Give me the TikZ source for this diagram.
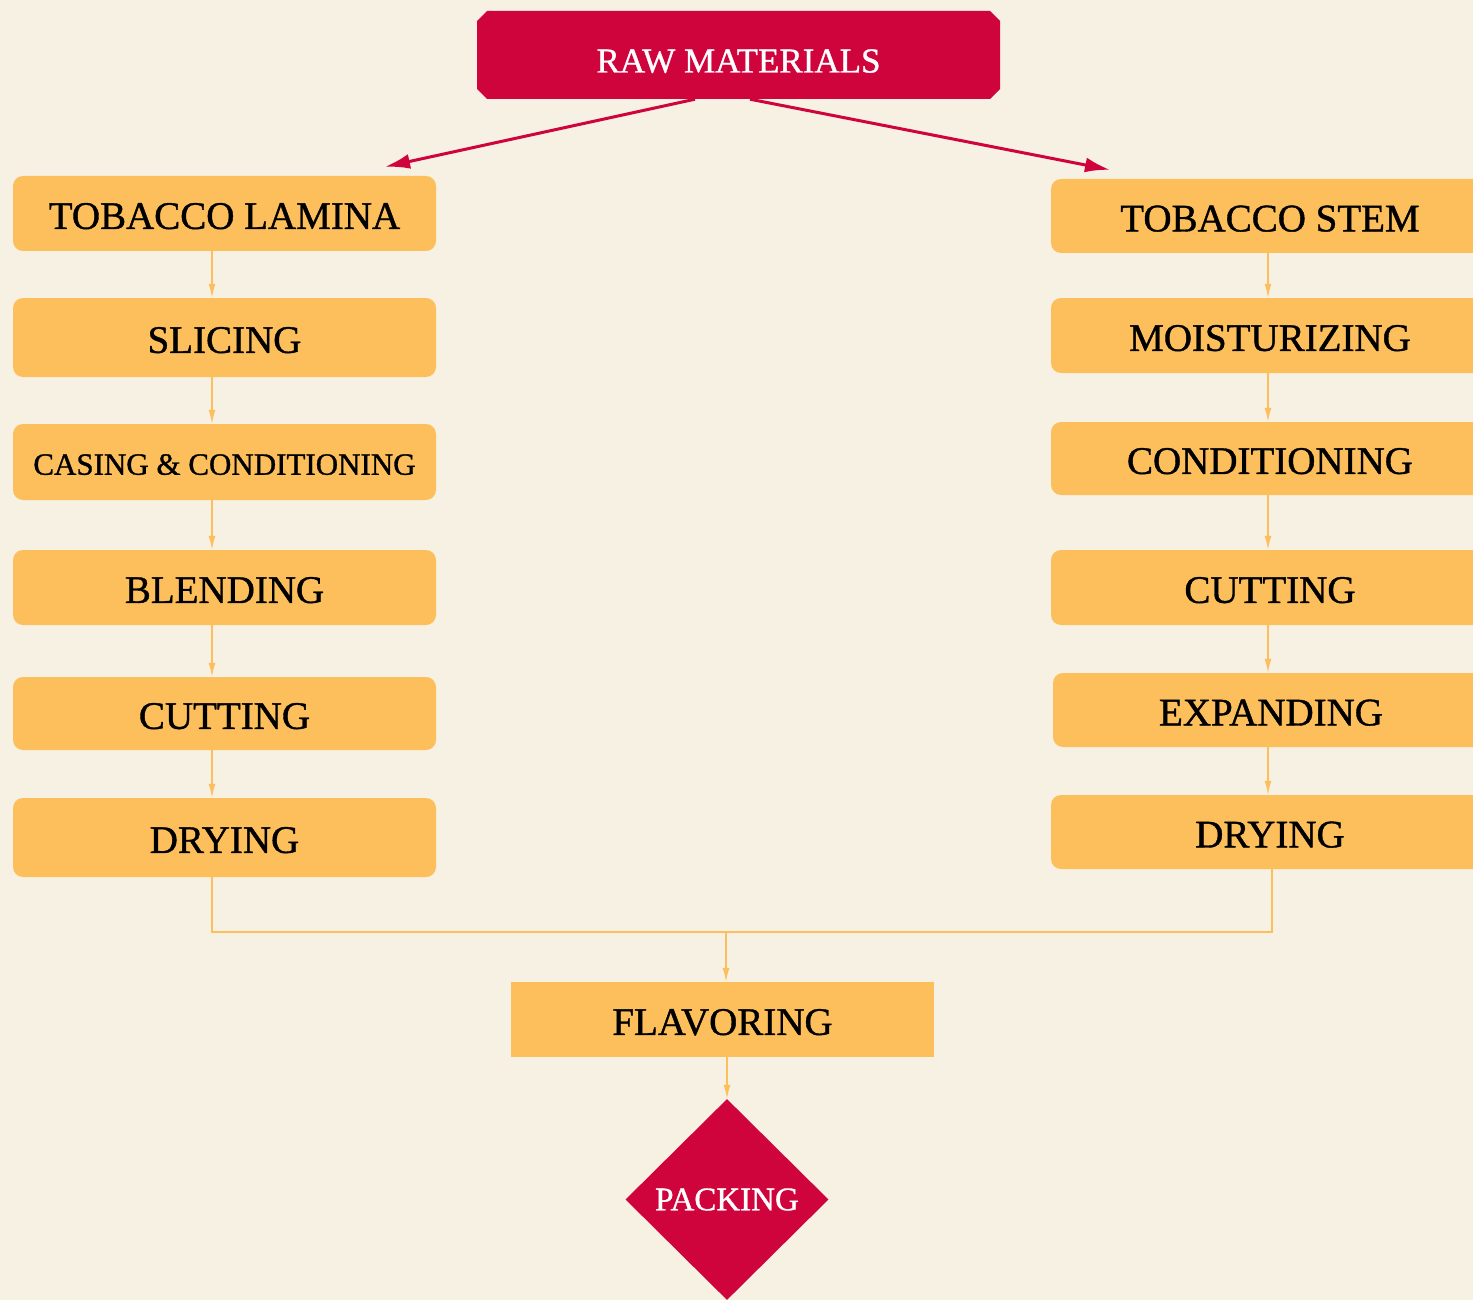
\documentclass[tikz,border=0pt]{standalone}
\usepackage{fontspec}
\setmainfont{Liberation Serif}
\newfontfamily\heavy{Liberation Serif}[FakeBold=1.0]
\usetikzlibrary{arrows.meta,shapes.geometric,shapes.misc}
\definecolor{bgc}{HTML}{F6F1E3}
\definecolor{orng}{HTML}{FDBF5B}
\definecolor{crim}{HTML}{D0043D}
\tikzset{
  obox/.style={rectangle, rounded corners=10pt, fill=orng, inner sep=0pt,
    minimum width=423pt, minimum height=75pt, font=\heavy\fontsize{39}{42}\selectfont, text=black,
    text height=30.8pt, text depth=0pt},
  rawbox/.style={chamfered rectangle, chamfered rectangle xsep=5pt, chamfered rectangle ysep=5pt,
    fill=crim, inner sep=0pt, minimum width=523pt, minimum height=88pt,
    font=\heavy\fontsize{35}{38}\selectfont, text=white, text height=35pt, text depth=0pt},
  flabox/.style={rectangle, fill=orng, inner sep=0pt, minimum width=423pt, minimum height=75pt,
    font=\heavy\fontsize{39}{42}\selectfont, text=black, text height=30.8pt, text depth=0pt},
  packd/.style={diamond, shape aspect=1, fill=crim, inner sep=0pt, minimum width=203pt,
    minimum height=201pt, font=\heavy\fontsize{33}{36}\selectfont, text=white},
  sarrow/.style={draw=orng, line width=1.5pt, -{Latex[length=14pt,width=7pt]}},
  sline/.style={draw=orng, line width=1.5pt},
  rarrow/.style={draw=crim, line width=3pt, -{Latex[length=25pt,width=15pt]}}
}
\begin{document}
\begin{tikzpicture}[x=1pt,y=-1pt]
\fill[bgc] (0,0) rectangle (1473,1300);
\useasboundingbox (0,0) rectangle (1473,1300);

\node[rawbox] (raw) at (738.5,55) {RAW MATERIALS};

% left column
\node[obox] (lam) at (224.5,213.5) {TOBACCO LAMINA};
\node[obox, minimum height=79pt] (sli) at (224.5,337.5) {SLICING};
\node[obox, minimum height=76pt, font=\heavy\fontsize{31}{34}\selectfont, text height=25.5pt] (cas) at (224.5,462) {CASING \& CONDITIONING};
\node[obox] (ble) at (224.5,587.5) {BLENDING};
\node[obox, minimum height=73pt] (lcu) at (224.5,713.5) {CUTTING};
\node[obox, minimum height=79pt] (ldr) at (224.5,837.5) {DRYING};

% right column
\node[obox, minimum width=438pt, minimum height=74pt] (stm) at (1270,216) {TOBACCO STEM};
\node[obox, minimum width=438pt] (moi) at (1270,335.5) {MOISTURIZING};
\node[obox, minimum width=438pt, minimum height=73pt] (con) at (1270,458.5) {CONDITIONING};
\node[obox, minimum width=438pt] (rcu) at (1270,587.5) {CUTTING};
\node[obox, minimum width=436pt, minimum height=74pt] (exp) at (1271,710) {EXPANDING};
\node[obox, minimum width=438pt, minimum height=74pt] (rdr) at (1270,832) {DRYING};

\node[flabox] (fla) at (722.5,1019.5) {FLAVORING};
\node[packd] (pac) at (727,1199.5) {PACKING};

% red arrows
\draw[rarrow] ([xshift=-43.5pt]raw.south) -- ([xshift=160.5pt,yshift=9pt]lam.north);
\draw[rarrow] ([xshift=11.5pt]raw.south) -- ([xshift=-160pt,yshift=9pt]stm.north);

% left arrows
\draw[sarrow] ([xshift=-12.5pt]lam.south) -- ([xshift=-12.5pt]sli.north);
\draw[sarrow] ([xshift=-12.5pt]sli.south) -- ([xshift=-12.5pt]cas.north);
\draw[sarrow] ([xshift=-12.5pt]cas.south) -- ([xshift=-12.5pt]ble.north);
\draw[sarrow] ([xshift=-12.5pt]ble.south) -- ([xshift=-12.5pt]lcu.north);
\draw[sarrow] ([xshift=-12.5pt]lcu.south) -- ([xshift=-12.5pt]ldr.north);

% right arrows
\draw[sarrow] ([xshift=-2pt]stm.south) -- ([xshift=-2pt]moi.north);
\draw[sarrow] ([xshift=-2pt]moi.south) -- ([xshift=-2pt]con.north);
\draw[sarrow] ([xshift=-2pt]con.south) -- ([xshift=-2pt]rcu.north);
\draw[sarrow] ([xshift=-2pt]rcu.south) -- ([xshift=-3pt]exp.north);
\draw[sarrow] ([xshift=-3pt]exp.south) -- ([xshift=-2pt]rdr.north);

% join
\coordinate (j) at (726,932);
\draw[sline] ([xshift=-12.5pt]ldr.south) |- (j);
\draw[sline] ([xshift=2pt]rdr.south) |- (j);
\draw[sarrow] (j) -- (j |- fla.north);
\draw[sarrow] (fla.south -| pac) -- (pac.north);
\end{tikzpicture}
\end{document}
